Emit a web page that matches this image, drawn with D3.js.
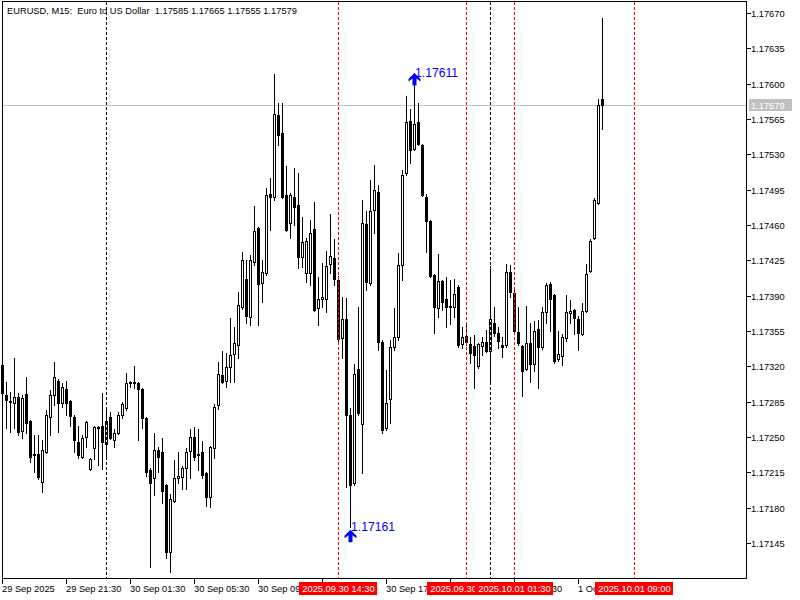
<!DOCTYPE html>
<html lang="en">
<head>
  <meta charset="UTF-8">
  <title>EURUSD, M15</title>
  <style>
    html, body { margin: 0; padding: 0; background: #fff; }
    svg { display: block; }
    text { font-family: 'Liberation Sans', Arial, sans-serif; }
  </style>
</head>
<body>
  <div class="layout"></div>

  <script src="https://d3js.org/d3.v7.min.js"></script>
  <script>
    const SVGWIDTH = 800;
    const SVGHEIGHT = 600;
    const FONT_PX = 9.3;

    // chart data (bar 0 = 29 Sep 2025 17:30, M15)
    const symbolTitle = 'EURUSD, M15:  Euro to US Dollar  1.17585 1.17665 1.17555 1.17579';
    const firstBar = '2025-09-29 17:30';
    const barMinutes = 15;

    const opens = [
      1.17321,1.17292,1.17286,1.17284,1.17290,1.17256,1.17293,1.17266,1.17233,1.17233,
      1.17205,1.17235,1.17270,1.17292,1.17305,1.17284,1.17298,1.17286,1.17270,1.17245,
      1.17230,1.17250,1.17218,1.17239,1.17260,1.17261,1.17243,1.17270,1.17247,1.17254,
      1.17272,1.17279,1.17303,1.17303,1.17303,1.17298,1.17269,1.17217,1.17209,1.17237,
      1.17235,1.17202,1.17136,1.17187,1.17209,1.17210,1.17219,1.17236,1.17250,1.17233,
      1.17235,1.17214,1.17191,1.17239,1.17282,1.17311,1.17305,1.17319,1.17332,1.17341,
      1.17379,1.17407,1.17369,1.17423,1.17457,1.17403,1.17412,1.17491,1.17488,1.17569,
      1.17551,1.17490,1.17462,1.17488,1.17480,1.17428,1.17412,1.17412,1.17456,1.17378,
      1.17387,1.17387,1.17421,1.17427,1.17406,1.17348,1.17367,1.17272,1.17204,1.17317,
      1.17263,1.17461,1.17403,1.17475,1.17493,1.17344,1.17259,1.17288,1.17339,1.17349,
      1.17420,1.17512,1.17563,1.17535,1.17562,1.17539,1.17488,1.17464,1.17410,1.17378,
      1.17405,1.17387,1.17379,1.17379,1.17399,1.17342,1.17350,1.17342,1.17340,1.17320,
      1.17340,1.17344,1.17335,1.17363,1.17353,1.17341,1.17341,1.17413,1.17393,1.17354,
      1.17340,1.17317,1.17343,1.17322,1.17357,1.17339,1.17374,1.17402,1.17391,1.17327,
      1.17330,1.17348,1.17373,1.17376,1.17367,1.17352,1.17375,1.17414,1.17447,1.17482,
      1.17585
    ];
    const highs = [
      1.17326,1.17304,1.17295,1.17328,1.17294,1.17292,1.17309,1.17267,1.17252,1.17252,
      1.17247,1.17277,1.17297,1.17324,1.17307,1.17303,1.17305,1.17287,1.17272,1.17261,
      1.17252,1.17266,1.17229,1.17261,1.17261,1.17294,1.17279,1.17275,1.17258,1.17275,
      1.17285,1.17313,1.17305,1.17320,1.17304,1.17299,1.17270,1.17219,1.17254,1.17240,
      1.17249,1.17203,1.17194,1.17227,1.17235,1.17221,1.17239,1.17258,1.17260,1.17258,
      1.17246,1.17215,1.17241,1.17283,1.17324,1.17335,1.17333,1.17368,1.17359,1.17394,
      1.17433,1.17425,1.17430,1.17479,1.17458,1.17425,1.17497,1.17507,1.17610,1.17581,
      1.17581,1.17518,1.17492,1.17516,1.17512,1.17468,1.17447,1.17465,1.17483,1.17408,
      1.17422,1.17434,1.17471,1.17446,1.17409,1.17389,1.17388,1.17279,1.17322,1.17379,
      1.17485,1.17474,1.17505,1.17519,1.17500,1.17346,1.17316,1.17346,1.17378,1.17432,
      1.17514,1.17588,1.17575,1.17611,1.17581,1.17540,1.17491,1.17465,1.17411,1.17431,
      1.17406,1.17408,1.17406,1.17407,1.17401,1.17359,1.17363,1.17349,1.17351,1.17343,
      1.17349,1.17356,1.17419,1.17379,1.17359,1.17349,1.17421,1.17420,1.17396,1.17379,
      1.17341,1.17380,1.17363,1.17365,1.17366,1.17379,1.17403,1.17404,1.17392,1.17355,
      1.17352,1.17391,1.17386,1.17377,1.17370,1.17383,1.17421,1.17446,1.17487,1.17585,
      1.17665
    ];
    const lows = [
      1.17291,1.17259,1.17255,1.17259,1.17252,1.17249,1.17254,1.17225,1.17215,1.17208,
      1.17196,1.17234,1.17252,1.17282,1.17255,1.17280,1.17272,1.17261,1.17235,1.17229,
      1.17229,1.17240,1.17217,1.17228,1.17222,1.17218,1.17229,1.17248,1.17240,1.17253,
      1.17269,1.17277,1.17300,1.17299,1.17247,1.17259,1.17211,1.17121,1.17193,1.17215,
      1.17185,1.17130,1.17116,1.17186,1.17204,1.17198,1.17198,1.17209,1.17227,1.17217,
      1.17209,1.17182,1.17181,1.17229,1.17278,1.17303,1.17300,1.17304,1.17304,1.17328,
      1.17377,1.17363,1.17361,1.17420,1.17361,1.17384,1.17410,1.17455,1.17485,1.17539,
      1.17487,1.17454,1.17447,1.17460,1.17417,1.17418,1.17404,1.17401,1.17375,1.17361,
      1.17379,1.17374,1.17412,1.17401,1.17344,1.17328,1.17200,1.17161,1.17202,1.17272,
      1.17214,1.17396,1.17401,1.17452,1.17336,1.17254,1.17257,1.17264,1.17336,1.17346,
      1.17406,1.17510,1.17521,1.17534,1.17539,1.17489,1.17433,1.17408,1.17353,1.17369,
      1.17376,1.17359,1.17362,1.17369,1.17339,1.17338,1.17341,1.17323,1.17299,1.17318,
      1.17331,1.17334,1.17303,1.17350,1.17338,1.17329,1.17339,1.17389,1.17353,1.17341,
      1.17291,1.17316,1.17304,1.17315,1.17299,1.17337,1.17363,1.17355,1.17323,1.17325,
      1.17321,1.17345,1.17363,1.17352,1.17336,1.17351,1.17374,1.17413,1.17446,1.17481,
      1.17555
    ];
    const closes = [
      1.17294,1.17287,1.17285,1.17290,1.17255,1.17289,1.17264,1.17230,1.17232,1.17210,
      1.17237,1.17272,1.17292,1.17309,1.17284,1.17300,1.17284,1.17271,1.17247,1.17232,
      1.17249,1.17265,1.17228,1.17260,1.17259,1.17245,1.17266,1.17249,1.17254,1.17272,
      1.17283,1.17303,1.17304,1.17304,1.17298,1.17269,1.17215,1.17204,1.17237,1.17230,
      1.17197,1.17136,1.17189,1.17209,1.17211,1.17219,1.17235,1.17250,1.17230,1.17232,
      1.17212,1.17191,1.17240,1.17280,1.17312,1.17304,1.17319,1.17331,1.17343,1.17381,
      1.17425,1.17370,1.17425,1.17454,1.17402,1.17413,1.17490,1.17488,1.17570,1.17549,
      1.17488,1.17455,1.17490,1.17478,1.17428,1.17443,1.17444,1.17452,1.17376,1.17387,
      1.17389,1.17419,1.17429,1.17407,1.17347,1.17367,1.17272,1.17202,1.17312,1.17274,
      1.17462,1.17404,1.17474,1.17495,1.17344,1.17257,1.17284,1.17339,1.17349,1.17420,
      1.17510,1.17562,1.17534,1.17560,1.17540,1.17490,1.17464,1.17409,1.17379,1.17405,
      1.17384,1.17379,1.17380,1.17392,1.17341,1.17349,1.17344,1.17333,1.17331,1.17342,
      1.17344,1.17335,1.17367,1.17353,1.17345,1.17339,1.17413,1.17394,1.17355,1.17343,
      1.17315,1.17343,1.17322,1.17355,1.17339,1.17374,1.17401,1.17387,1.17325,1.17332,
      1.17349,1.17374,1.17375,1.17368,1.17353,1.17375,1.17411,1.17444,1.17485,1.17579,
      1.17579
    ];

    const priceTicks = [1.17145,1.17180,1.17215,1.17250,1.17285,1.17320,1.17355,1.17390,
                        1.17425,1.17460,1.17495,1.17530,1.17565,1.17600,1.17635,1.17670];
    const timeTicks = ['2025-09-29 17:30','2025-09-29 21:30','2025-09-30 01:30','2025-09-30 05:30',
                       '2025-09-30 09:30','2025-09-30 13:30','2025-09-30 17:30','2025-09-30 21:30',
                       '2025-10-01 01:30','2025-10-01 05:30'];
    const daySeparators = ['2025-09-30 00:00','2025-10-01 00:00'];
    const redLines = ['2025-09-30 14:30','2025-09-30 22:30','2025-10-01 01:30','2025-10-01 09:00'];
    const markerTimes = ['2025-09-30 15:15','2025-09-30 19:15'];
    const markerPrices = [1.17161, 1.17611];
    const markerIsLow = [true, false];
    const currentPrice = 1.17579;

    // frame of the price window
    const frame = {left: 2.5, top: 1.5, right: 746.5, bottom: 578.5};

    const parseTime = d3.utcParse('%Y-%m-%d %H:%M');
    const t0 = parseTime(firstBar);
    const barTime = (i) => d3.utcMinute.offset(t0, i * barMinutes);
    const lastIndex = opens.length - 1;

    const xScale = d3.scaleUtc()
      .domain([t0, barTime(lastIndex)])
      .range([2.5, 2.5 + 4 * lastIndex]);

    const yScale = d3.scaleLinear()
      .domain([1.17145, 1.17670])
      .range([543, 13]);

    const py = (p) => Math.round(yScale(p)) + 0.5;
    const fmtPrice = d3.format('.5f');

    const svg = d3.select('.layout')
      .append('svg')
      .attr('width', SVGWIDTH)
      .attr('height', SVGHEIGHT)
      .attr('viewBox', `0 0 ${SVGWIDTH} ${SVGHEIGHT}`);

    // current price line sits behind the candles
    svg.append('line')
      .attr('x1', frame.left).attr('x2', frame.right)
      .attr('y1', py(currentPrice)).attr('y2', py(currentPrice))
      .attr('stroke', '#c0c0c0')
      .attr('shape-rendering', 'crispEdges');

    // candles
    const bars = d3.range(opens.length).map((i) => ({
      t: barTime(i), o: opens[i], h: highs[i], l: lows[i], c: closes[i]
    }));

    const candles = svg.append('g').attr('class', 'candles')
      .attr('shape-rendering', 'crispEdges');

    candles.selectAll('line.wick')
      .data(bars)
      .enter()
      .append('line')
      .attr('class', 'wick')
      .attr('x1', (d) => xScale(d.t))
      .attr('x2', (d) => xScale(d.t))
      .attr('y1', (d) => py(d.h) - 0.5)
      .attr('y2', (d) => py(d.l) + 0.5)
      .attr('stroke', '#000');

    candles.selectAll('rect.body')
      .data(bars.filter((d) => Math.abs(py(d.o) - py(d.c)) >= 1))
      .enter()
      .append('rect')
      .attr('class', 'body')
      .attr('x', (d) => xScale(d.t) - 1)
      .attr('width', 2)
      .attr('y', (d) => Math.min(py(d.o), py(d.c)))
      .attr('height', (d) => Math.abs(py(d.o) - py(d.c)))
      .attr('fill', (d) => d.c >= d.o ? '#fff' : '#000')
      .attr('stroke', '#000');

    // dojis: flat body
    candles.selectAll('line.doji')
      .data(bars.filter((d) => Math.abs(py(d.o) - py(d.c)) < 1))
      .enter()
      .append('line')
      .attr('class', 'doji')
      .attr('x1', (d) => xScale(d.t) - 1.5)
      .attr('x2', (d) => xScale(d.t) + 1.5)
      .attr('y1', (d) => py(d.c))
      .attr('y2', (d) => py(d.c))
      .attr('stroke', '#000');

    // period separators and red vertical lines
    const vlines = svg.append('g').attr('shape-rendering', 'crispEdges');
    vlines.selectAll('line.sep')
      .data(daySeparators.map(parseTime))
      .enter()
      .append('line')
      .attr('x1', (d) => xScale(d)).attr('x2', (d) => xScale(d))
      .attr('y1', frame.top).attr('y2', frame.bottom)
      .attr('stroke', '#000')
      .attr('stroke-dasharray', '3,2');

    vlines.selectAll('line.red')
      .data(redLines.map(parseTime))
      .enter()
      .append('line')
      .attr('x1', (d) => xScale(d)).attr('x2', (d) => xScale(d))
      .attr('y1', frame.top).attr('y2', frame.bottom)
      .attr('stroke', '#ff0000')
      .attr('stroke-dasharray', '3,2');

    // high / low markers (thick up arrows)
    const markers = markerTimes.map((t, i) => ({t: parseTime(t), p: markerPrices[i], low: markerIsLow[i]}));
    const arrowPath = 'M0,0 L6,6 L6,8.5 L2,5.5 L2,12.5 L-2,12.5 L-2,5.5 L-6,8.5 L-6,6 Z';
    const mk = svg.append('g').attr('class', 'markers');
    mk.selectAll('path')
      .data(markers)
      .enter()
      .append('path')
      .attr('d', arrowPath)
      .attr('transform', (d) => `translate(${xScale(d.t)},${yScale(d.p) + (d.low ? 3 : 0.5)})`)
      .attr('fill', '#0000ff');
    mk.selectAll('text')
      .data(markers)
      .enter()
      .append('text')
      .attr('x', (d) => xScale(d.t) + 0.5)
      .attr('y', (d) => yScale(d.p) + 4.5)
      .attr('font-size', '12.2px')
      .attr('fill', '#0000ff')
      .text((d) => fmtPrice(d.p));

    // frame
    svg.append('rect')
      .attr('x', frame.left).attr('y', frame.top)
      .attr('width', frame.right - frame.left)
      .attr('height', frame.bottom - frame.top)
      .attr('fill', 'none')
      .attr('stroke', '#000')
      .attr('shape-rendering', 'crispEdges');

    // price axis on the right
    const yAxis = svg.append('g').attr('class', 'yAxis');
    yAxis.selectAll('line')
      .data(priceTicks)
      .enter()
      .append('line')
      .attr('x1', frame.right).attr('x2', frame.right + 4)
      .attr('y1', (d) => py(d)).attr('y2', (d) => py(d))
      .attr('stroke', '#000')
      .attr('shape-rendering', 'crispEdges');
    yAxis.selectAll('text')
      .data(priceTicks)
      .enter()
      .append('text')
      .attr('x', frame.right + 4.5)
      .attr('y', (d) => py(d) + 3.3)
      .attr('font-size', `${FONT_PX}px`)
      .attr('fill', '#000')
      .text((d) => fmtPrice(d));

    // current price tag
    const tag = svg.append('g');
    tag.append('rect')
      .attr('x', frame.right + 2.5).attr('y', py(currentPrice) - 6.5)
      .attr('width', 43).attr('height', 12)
      .attr('fill', '#c0c0c0');
    tag.append('text')
      .attr('x', frame.right + 4.5)
      .attr('y', py(currentPrice) + 3.3)
      .attr('font-size', `${FONT_PX}px`)
      .attr('fill', '#fff')
      .text(fmtPrice(currentPrice));

    // time axis at the bottom
    const fmtFirst = d3.utcFormat('%-d %b %Y');
    const fmtOther = d3.utcFormat('%-d %b %H:%M');
    const xTicks = timeTicks.map(parseTime);
    const xAxis = svg.append('g').attr('class', 'xAxis');
    xAxis.selectAll('line')
      .data(xTicks)
      .enter()
      .append('line')
      .attr('x1', (d) => xScale(d)).attr('x2', (d) => xScale(d))
      .attr('y1', frame.bottom).attr('y2', frame.bottom + 5)
      .attr('stroke', '#000')
      .attr('shape-rendering', 'crispEdges');
    xAxis.selectAll('text')
      .data(xTicks)
      .enter()
      .append('text')
      .attr('x', (d) => xScale(d) - 0.5)
      .attr('y', 592)
      .attr('font-size', `${FONT_PX}px`)
      .attr('fill', '#000')
      .text((d, i) => i === 0 ? fmtFirst(d) : fmtOther(d));

    // red time tags for the vertical lines (drawn over the time labels, as in the terminal)
    const fmtTag = d3.utcFormat('%Y.%m.%d %H:%M');
    redLines.map(parseTime).forEach((t) => {
      const g = svg.append('g');
      const label = g.append('text')
        .attr('x', xScale(t))
        .attr('y', 592)
        .attr('text-anchor', 'middle')
        .attr('font-size', `${FONT_PX}px`)
        .attr('fill', '#fff')
        .text(fmtTag(t));
      const w = label.node().getComputedTextLength() + 6;
      g.insert('rect', 'text')
        .attr('x', Math.round(xScale(t) - w / 2))
        .attr('y', 582)
        .attr('width', Math.round(w))
        .attr('height', 13)
        .attr('fill', '#ff0000');
    });

    // title
    svg.append('text')
      .attr('x', 7)
      .attr('y', 13.5)
      .attr('font-size', `${FONT_PX}px`)
      .attr('fill', '#000')
      .style('white-space', 'pre')
      .text(symbolTitle);
  </script>
</body>
</html>
